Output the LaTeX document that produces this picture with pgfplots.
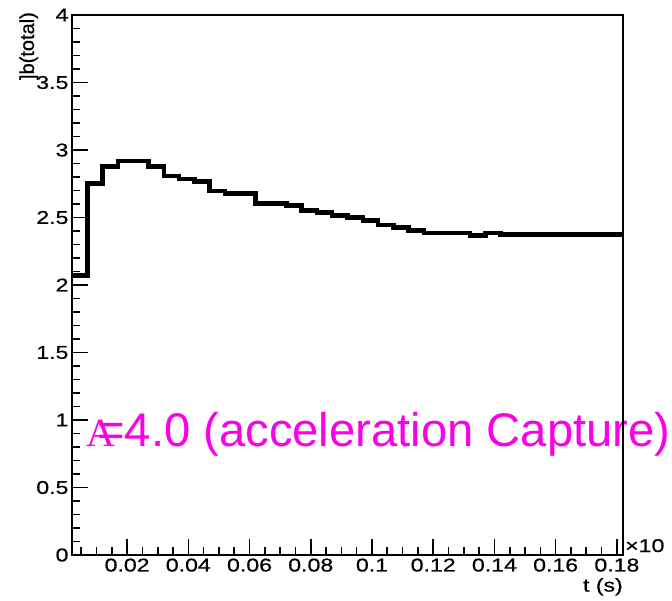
\documentclass[border=0pt]{standalone}
\usepackage{pgfplots}
\pgfplotsset{compat=1.18}
\usepackage{fontspec}
\setmainfont{Liberation Sans}
\newfontfamily\tickfont[FakeStretch=1.25,FakeBold=0.6]{Liberation Sans}
\newfontfamily\labfont[FakeBold=0.6]{Liberation Sans}
\newfontfamily\serifA{Liberation Serif}
\definecolor{rootmag}{RGB}{250,0,230}
\newcommand{\tf}{\tickfont\fontsize{18.5}{18.5}\selectfont}

\begin{document}
\begin{tikzpicture}[x=1pt,y=1pt]
\useasboundingbox (0,0) rectangle (672,-600);
% magenta annotation (drawn first, frame goes over it)
\node[anchor=base west, inner sep=0, text=rootmag, font=\serifA\fontsize{40}{40}\selectfont] at (86,-446) {A};
\node[anchor=base west, inner sep=0, text=rootmag, font=\fontsize{47.2}{47.2}\selectfont] at (97,-446) {=4.0 (acceleration Capture)};
\begin{axis}[
  at={(72pt,-555pt)}, anchor=south west,
  scale only axis, width=551pt, height=540pt,
  xmin=0.002, xmax=0.182, ymin=0, ymax=4,
  xtick={0.02,0.04,0.06,0.08,0.1,0.12,0.14,0.16,0.18},
  minor xtick={0.005,0.01,...,0.18},
  ytick={0,0.5,1,1.5,2,2.5,3,3.5,4},
  minor ytick={0.1,0.2,...,3.95},
  tick align=inside, major tick length=16pt, minor tick length=8pt,
  tick pos=left,
  every tick/.style={black, line width=1.6pt},
  axis line style={line width=1.6pt},
  scaled ticks=false,
  xticklabel style={/pgf/number format/fixed, /pgf/number format/precision=2},
  yticklabel style={/pgf/number format/fixed, /pgf/number format/precision=1},
  /pgf/number format/assume math mode=true,
  tick label style={font=\tf},
]
\addplot[const plot, black, line width=4.6pt, line join=miter, mark=none] coordinates {
(0.002,2.07) (0.007,2.754) (0.012,2.877) (0.017,2.92) (0.022,2.92)
(0.027,2.877) (0.032,2.808) (0.037,2.784) (0.042,2.765) (0.047,2.697)
(0.052,2.677) (0.057,2.677) (0.062,2.605) (0.067,2.605) (0.072,2.59)
(0.077,2.553) (0.082,2.536) (0.087,2.516) (0.092,2.498) (0.097,2.48)
(0.102,2.444) (0.107,2.424) (0.112,2.405) (0.117,2.385) (0.122,2.385)
(0.127,2.385) (0.132,2.365) (0.137,2.385) (0.142,2.375) (0.147,2.375)
(0.152,2.375) (0.157,2.375) (0.162,2.375) (0.167,2.375) (0.172,2.375)
(0.177,2.375) (0.182,2.375)
};
\end{axis}
\node[font=\tf, anchor=north east, inner sep=0] at (623,-578) {t (s)};
\node[font=\tf, anchor=base west, inner sep=0] at (625,-552) {×10};
\node[font=\labfont\fontsize{20}{20}\selectfont, rotate=90, anchor=base east, inner sep=0] at (34,-12) {]b(total)};
\end{tikzpicture}
\end{document}
